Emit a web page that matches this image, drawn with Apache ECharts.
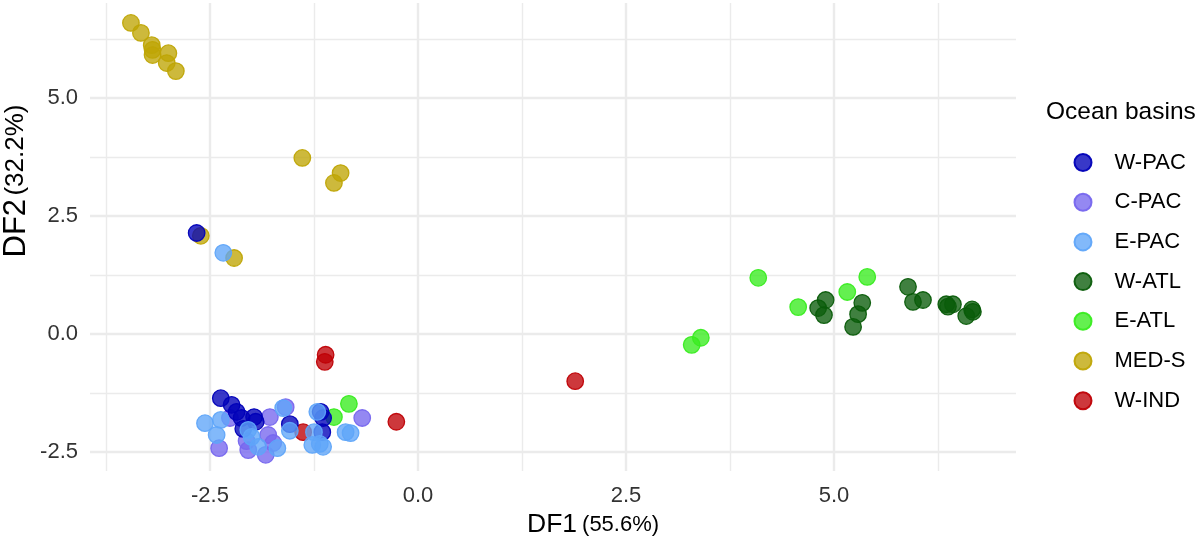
<!DOCTYPE html>
<html>
<head>
<meta charset="utf-8">
<script src="https://cdn.jsdelivr.net/npm/echarts@6/dist/echarts.min.js"></script>
<style>
html,body{margin:0;padding:0;background:#fff;}
#chart{width:1200px;height:542px;}
</style>
</head>
<body>
<div id="chart"></div>
<script>
// ---- data (DF1, DF2) ----
const wPac = [[-2.66,2.14],[-2.37,-1.36],[-2.24,-1.50],[-2.18,-1.65],[-2.12,-1.78],[-1.97,-1.76],[-1.95,-1.86],[-2.10,-2.01],[-1.54,-1.91],[-1.17,-1.65],[-1.14,-1.78],[-1.15,-2.08]];
const cPac = [[-2.26,-1.78],[-2.39,-2.42],[-1.78,-1.76],[-2.04,-2.46],[-1.83,-2.56],[-1.80,-2.14],[-1.74,-2.31],[-2.06,-2.27],[-1.59,-1.55],[-0.67,-1.78]];
const ePac = [[-2.34,1.72],[-2.56,-1.89],[-2.37,-1.82],[-2.42,-2.14],[-1.62,-1.57],[-2.04,-2.03],[-2.00,-2.18],[-1.92,-2.39],[-1.69,-2.42],[-1.54,-2.05],[-1.21,-1.65],[-1.25,-2.08],[-1.27,-2.35],[-1.18,-2.33],[-1.14,-2.39],[-0.87,-2.08],[-0.81,-2.10]];
const wAtl = [[4.90,0.72],[4.81,0.55],[4.88,0.40],[5.34,0.66],[5.29,0.42],[5.23,0.15],[5.89,1.00],[5.95,0.68],[6.07,0.72],[6.35,0.63],[6.43,0.63],[6.37,0.58],[6.59,0.38],[6.66,0.52],[6.67,0.47]];
const eAtl = [[4.09,1.19],[4.57,0.57],[5.16,0.89],[5.40,1.21],[3.40,-0.08],[3.29,-0.23],[-0.83,-1.48],[-1.01,-1.76]];
const medS = [[-3.45,6.59],[-3.33,6.38],[-3.20,6.12],[-3.19,6.02],[-3.19,5.91],[-3.00,5.95],[-3.02,5.74],[-2.91,5.57],[-1.39,3.73],[-0.93,3.41],[-1.01,3.20],[-2.61,2.08],[-2.21,1.61]];
const wInd = [[-1.11,-0.44],[-1.12,-0.59],[-1.38,-2.08],[-0.26,-1.86],[1.89,-1.00]];

const groups = ['W-PAC','C-PAC','E-PAC','W-ATL','E-ATL','MED-S','W-IND'];
const groupData = {'W-PAC':wPac,'C-PAC':cPac,'E-PAC':ePac,'W-ATL':wAtl,'E-ATL':eAtl,'MED-S':medS,'W-IND':wInd};
const baseRgb = {'W-PAC':[0,0,184],'C-PAC':[118,102,238],'E-PAC':[95,165,249],'W-ATL':[10,92,10],'E-ATL':[56,236,31],'MED-S':[191,165,5],'W-IND':[191,0,5]};
const drawZ = {'MED-S':1,'W-ATL':2,'E-ATL':3,'W-IND':4,'C-PAC':5,'W-PAC':6,'E-PAC':7};

const xMajor = [-2.5,0,2.5,5];
const xMinor = [-3.75,-1.25,1.25,3.75,6.25];
const yMajor = [-2.5,0,2.5,5];
const yMinor = [-1.25,1.25,3.75,6.25];
const xRange = [-3.942,7.188];
const yRange = [-2.903,7.013];

const rgba = (c,a)=>`rgba(${c[0]},${c[1]},${c[2]},${a})`;
const FONT = 'Liberation Sans, Arial, Helvetica, sans-serif';

const series = groups.map(g => ({
  name: g,
  type: 'scatter',
  xAxisIndex: 0,
  yAxisIndex: 0,
  data: groupData[g],
  symbol: 'circle',
  symbolSize: 16.5,
  z: 2 + drawZ[g],
  itemStyle: {
    color: rgba(baseRgb[g],0.78),
    borderColor: rgba(baseRgb[g],0.95),
    borderWidth: 1.3,
    opacity: 1
  },
  emphasis: {disabled: true}
}));

const gridLine = (w)=>({show:true, lineStyle:{color:'#EBEBEB', width:w}});

const option = {
  animation: false,
  backgroundColor: '#ffffff',
  grid: {left: 90, right: 184, top: 3, bottom: 71, containLabel: false},
  xAxis: [
    {type:'value', min:xRange[0], max:xRange[1],
     axisLine:{show:false}, axisTick:{show:false, customValues:xMajor},
     splitLine: gridLine(2.4),
     axisLabel:{show:true, customValues:xMajor, formatter:v=>v.toFixed(1), fontFamily:FONT, fontSize:22, color:'#333333', margin:14}},
    {type:'value', min:xRange[0], max:xRange[1], gridIndex:0,
     axisLine:{show:false}, axisTick:{show:false, customValues:xMinor},
     splitLine: gridLine(1.4), axisLabel:{show:false}}
  ],
  yAxis: [
    {type:'value', min:yRange[0], max:yRange[1],
     axisLine:{show:false}, axisTick:{show:false, customValues:yMajor},
     splitLine: gridLine(2.4),
     axisLabel:{show:true, customValues:yMajor, formatter:v=>v.toFixed(1), fontFamily:FONT, fontSize:22, color:'#333333', margin:12}},
    {type:'value', min:yRange[0], max:yRange[1], gridIndex:0,
     axisLine:{show:false}, axisTick:{show:false, customValues:yMinor},
     splitLine: gridLine(1.4), axisLabel:{show:false}}
  ],
  legend: {
    orient:'vertical',
    left: 1068.5,
    top: 146.5,
    itemWidth: 17,
    itemHeight: 17,
    itemGap: 17.7,
    icon: 'circle',
    data: groups,
    textStyle: {fontFamily:FONT, fontSize:22, color:'#000', lineHeight:17, padding:[0,0,0,18]},
    selectedMode: false
  },
  graphic: [
    {type:'text', left:1046, top:100,
     style:{text:'Ocean basins', fontFamily:FONT, fontSize:24.5, fill:'#000'}},
    {type:'text', x:527, y:525,
     style:{text:'{a|DF1}{b|(55.6%)}', verticalAlign:'middle', align:'left',
       rich:{a:{fontFamily:FONT, fontSize:26.5, fill:'#000', padding:[0,5,0,0]}, b:{fontFamily:FONT, fontSize:22, fill:'#000'}}}},
    {type:'text', x:16, y:181, rotation:Math.PI/2,
     style:{text:'{a|DF2} {b|(32.2%)}', verticalAlign:'middle', align:'center',
       rich:{a:{fontFamily:FONT, fontSize:31, fill:'#000'}, b:{fontFamily:FONT, fontSize:26, fill:'#000'}}}}
  ],
  series: series
};

const chart = echarts.init(document.getElementById('chart'), null, {renderer:'canvas'});
chart.setOption(option);
</script>
</body>
</html>
